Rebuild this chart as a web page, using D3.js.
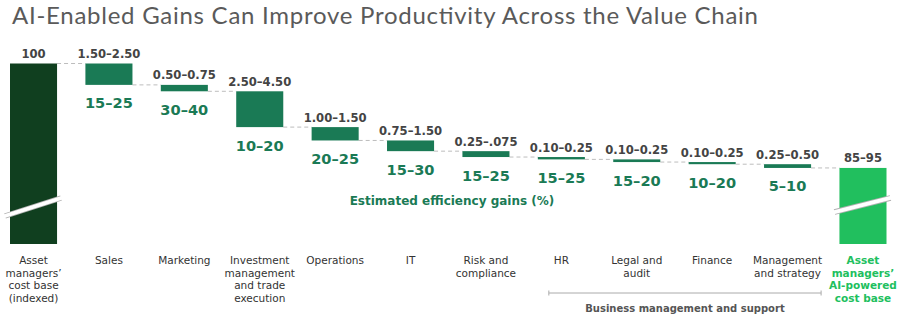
<!DOCTYPE html>
<html lang="en">
<head>
    <meta charset="UTF-8">
    <title>AI-Enabled Gains</title>
    <style>
        body,
        html {
            margin: 0;
            padding: 0;
            background: #fff;
        }
        svg text { font-family: "DejaVu Sans", sans-serif; }
    </style>
    <script src="https://d3js.org/d3.v7.min.js"></script>
</head>
<body>
<div id="chart"></div>
<script>
    // ---- data ----
    let categories = [
        ["Asset", "managers’", "cost base", "(indexed)"],
        ["Sales"],
        ["Marketing"],
        ["Investment", "management", "and trade", "execution"],
        ["Operations"],
        ["IT"],
        ["Risk and", "compliance"],
        ["HR"],
        ["Legal and", "audit"],
        ["Finance"],
        ["Management", "and strategy"],
        ["Asset", "managers’", "AI-powered", "cost base"]
    ];
    let costBase = 100;
    let costBaseLabel = "100";
    // estimated cost reduction per function
    let costDrop = [2.0, 0.6, 3.35, 1.25, 1.0, 0.55, 0.22, 0.25, 0.2, 0.35];
    let costRangeLabels = ["1.50–2.50", "0.50–0.75", "2.50–4.50", "1.00–1.50", "0.75–1.50",
        "0.25–.075", "0.10–0.25", "0.10–0.25", "0.10–0.25", "0.25–0.50"];
    let gainLabels = ["15–25", "30–40", "10–20", "20–25", "15–30", "15–25", "15–25", "15–20", "10–20", "5–10"];
    let finalLabel = "85–95";

    let width = 900, height = 322;
    let baseY = 244;
    let cDark = "#103f1f", cMid = "#1a7a55", cBright = "#21bf5e";

    let svg = d3.select("#chart").append("svg")
        .attr("width", width).attr("height", height);

    svg.append("text")
        .attr("x", 12).attr("y", 24)
        .style("font-family", "Lato, sans-serif")
        .style("font-size", "24px")
        .attr("fill", "#5a5a5a")
        .attr("textLength", 746)
        .attr("lengthAdjust", "spacing")
        .text("AI-Enabled Gains Can Improve Productivity Across the Value Chain");

    let x = d3.scaleBand()
        .domain(d3.range(categories.length))
        .range([10, 886.5])
        .paddingInner(0.376)
        .paddingOuter(0);

    let y = d3.scaleLinear().domain([90, 100]).range([170.4, 63.5]);

    // build waterfall steps
    let steps = [];
    let level = costBase;
    costDrop.forEach((d, i) => {
        steps.push({i: i + 1, top: level, bottom: level - d, label: costRangeLabels[i], gain: gainLabels[i]});
        level -= d;
    });
    let finalValue = level;

    // connectors
    let connectors = [{from: 0, to: 1, v: costBase}];
    steps.forEach(s => connectors.push({from: s.i, to: s.i + 1, v: s.bottom}));
    svg.append("g").selectAll("line").data(connectors).enter().append("line")
        .attr("x1", d => x(d.from) + x.bandwidth())
        .attr("x2", d => x(d.to))
        .attr("y1", d => y(d.v)).attr("y2", d => y(d.v))
        .attr("stroke", "#bdbdbd").attr("stroke-width", 1)
        .attr("stroke-dasharray", "4,3");

    // full bars (start and end)
    let fullBars = [
        {i: 0, v: costBase, color: cDark, label: costBaseLabel},
        {i: categories.length - 1, v: finalValue, color: cBright, label: finalLabel}
    ];
    svg.append("g").selectAll("rect").data(fullBars).enter().append("rect")
        .attr("x", d => x(d.i)).attr("width", x.bandwidth())
        .attr("y", d => y(d.v)).attr("height", d => baseY - y(d.v))
        .attr("fill", d => d.color);

    // axis-break marks
    let brk = svg.append("g");
    fullBars.forEach(d => {
        let x0 = x(d.i) - 5, x1 = x(d.i) + x.bandwidth() + 4;
        let y0 = d.i === 0 ? 216 : 212, y1 = 198;
        brk.append("line").attr("x1", x0).attr("x2", x1).attr("y1", y0).attr("y2", y1)
            .attr("stroke", "#b0b0b0").attr("stroke-width", 5.5);
        brk.append("line").attr("x1", x0 - 1).attr("x2", x1 + 1).attr("y1", y0 + 0.3).attr("y2", y1 - 0.3)
            .attr("stroke", "#fff").attr("stroke-width", 3.8);
    });

    // drop bars
    svg.append("g").selectAll("rect").data(steps).enter().append("rect")
        .attr("x", d => x(d.i)).attr("width", x.bandwidth())
        .attr("y", d => y(d.top)).attr("height", d => y(d.bottom) - y(d.top))
        .attr("fill", cMid);

    // value labels above bars
    let topLabels = fullBars.map(d => ({i: d.i, v: d.v, label: d.label}))
        .concat(steps.map(s => ({i: s.i, v: s.top, label: s.label})));
    svg.append("g").selectAll("text").data(topLabels).enter().append("text")
        .attr("x", d => x(d.i) + x.bandwidth() / 2)
        .attr("y", d => y(d.v) - 5.5)
        .attr("text-anchor", "middle")
        .style("font-size", "11.6px").style("font-weight", "bold")
        .attr("fill", "#444")
        .text(d => d.label);

    // efficiency gain labels
    svg.append("g").selectAll("text").data(steps).enter().append("text")
        .attr("x", d => x(d.i) + x.bandwidth() / 2)
        .attr("y", d => y(d.bottom) + 23.5)
        .attr("text-anchor", "middle")
        .style("font-size", "14.6px").style("font-weight", "bold")
        .attr("fill", cMid)
        .text(d => d.gain);

    svg.append("text")
        .attr("x", 452).attr("y", 205)
        .attr("text-anchor", "middle")
        .style("font-size", "12px").style("font-weight", "bold")
        .attr("fill", cMid)
        .text("Estimated efficiency gains (%)");

    // category labels
    let cat = svg.append("g").selectAll("text").data(categories).enter().append("text")
        .attr("x", (d, i) => x(i) + x.bandwidth() / 2)
        .attr("y", 264)
        .attr("text-anchor", "middle")
        .style("font-size", "10.5px")
        .style("font-weight", (d, i) => i === categories.length - 1 ? "bold" : "normal")
        .attr("fill", (d, i) => i === categories.length - 1 ? cBright : "#333");
    cat.selectAll("tspan").data(d => d).enter().append("tspan")
        .attr("x", function () { return d3.select(this.parentNode).attr("x"); })
        .attr("dy", (d, j) => j === 0 ? 0 : 12.5)
        .text(d => d);

    // business management bracket
    let bx0 = x(7) + 11, bx1 = x(10) + x.bandwidth() + 10, by = 293;
    let br = svg.append("g").attr("stroke", "#aaa").attr("stroke-width", 1);
    br.append("line").attr("x1", bx0).attr("x2", bx1).attr("y1", by).attr("y2", by);
    br.append("line").attr("x1", bx0).attr("x2", bx0).attr("y1", by - 2.5).attr("y2", by + 2.5);
    br.append("line").attr("x1", bx1).attr("x2", bx1).attr("y1", by - 2.5).attr("y2", by + 2.5);
    svg.append("text")
        .attr("x", (bx0 + bx1) / 2).attr("y", 312)
        .attr("text-anchor", "middle")
        .style("font-size", "10px").style("font-weight", "bold")
        .attr("fill", "#555")
        .text("Business management and support");
</script>
</body>
</html>
